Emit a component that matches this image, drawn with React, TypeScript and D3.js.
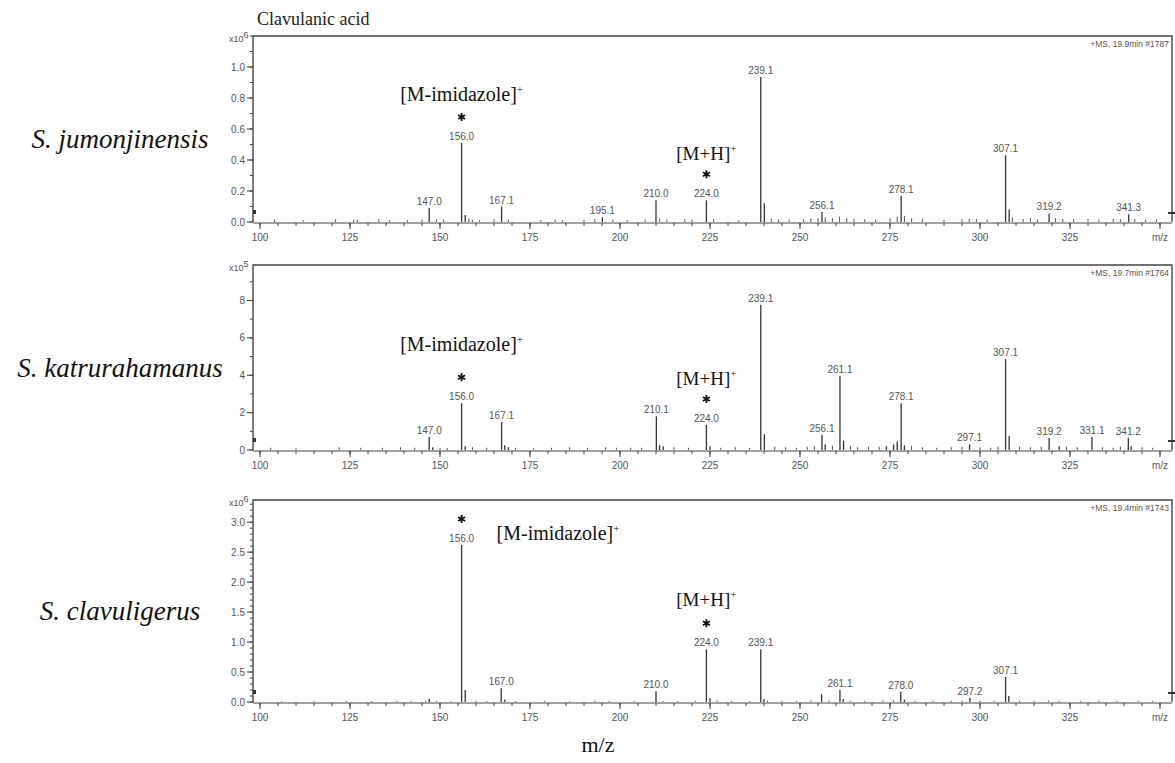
import React, { useEffect, useRef } from 'react';
import * as d3 from 'd3';

// m/z axis
const xTicks = [100, 125, 150, 175, 200, 225, 250, 275, 300, 325];

const species = ['S. jumonjinensis', 'S. katrurahamanus', 'S. clavuligerus'];
const scanInfo = ['+MS, 19.9min #1787', '+MS, 19.7min #1764', '+MS, 19.4min #1743'];
const exponents = ['6', '5', '6'];
const yMax = [1.2, 9.9, 3.37];
const yMajor = [
  [0, 0.2, 0.4, 0.6, 0.8, 1.0],
  [0, 2, 4, 6, 8],
  [0, 0.5, 1.0, 1.5, 2.0, 2.5, 3.0],
];
const yMinorStep = [0.1, 1, 0.1];
const yLabelDigits = [1, 0, 1];

// peaks: [m/z, intensity], labelled ones carry their label
const peaks1: [number, number, string?][] = [
  [147.0, 0.09, '147.0'], [156.0, 0.51, '156.0'], [157.0, 0.045], [167.1, 0.1, '167.1'],
  [195.1, 0.03, '195.1'], [210.0, 0.14, '210.0'], [224.0, 0.14, '224.0'], [239.1, 0.935, '239.1'],
  [240.1, 0.12], [256.1, 0.065, '256.1'], [278.1, 0.17, '278.1'], [307.1, 0.43, '307.1'],
  [308.1, 0.08], [319.2, 0.055, '319.2'], [341.3, 0.05, '341.3'],
];
const peaks2: [number, number, string?][] = [
  [147.0, 0.7, '147.0'], [148.0, 0.15], [156.0, 2.5, '156.0'], [157.0, 0.2], [167.1, 1.5, '167.1'],
  [168.0, 0.25], [169.0, 0.15], [210.1, 1.8, '210.1'], [211.0, 0.25], [212.0, 0.2],
  [224.0, 1.34, '224.0'], [225.0, 0.2], [239.1, 7.77, '239.1'], [240.1, 0.85], [256.1, 0.8, '256.1'],
  [257.0, 0.3], [261.1, 3.96, '261.1'], [262.1, 0.5], [274.0, 0.2], [276.0, 0.3], [277.0, 0.45],
  [278.1, 2.5, '278.1'], [279.0, 0.25], [297.1, 0.3, '297.1'], [307.1, 4.87, '307.1'], [308.1, 0.75],
  [319.2, 0.64, '319.2'], [322.0, 0.2], [331.1, 0.7, '331.1'], [341.2, 0.65, '341.2'], [342.0, 0.2],
];
const peaks3: [number, number, string?][] = [
  [147.0, 0.05], [156.0, 2.62, '156.0'], [157.0, 0.2], [167.0, 0.23, '167.0'], [168.0, 0.04],
  [210.0, 0.18, '210.0'], [224.0, 0.88, '224.0'], [225.0, 0.06], [239.1, 0.88, '239.1'], [240.0, 0.05],
  [256.0, 0.13], [261.1, 0.2, '261.1'], [262.0, 0.05], [278.0, 0.17, '278.0'], [279.0, 0.04],
  [297.2, 0.07, '297.2'], [307.1, 0.42, '307.1'], [308.0, 0.1],
];

// small baseline peaks
const noise1: [number, number][] = [
  [104, 0.015], [112, 0.012], [121, 0.018], [126, 0.015], [127, 0.015], [133, 0.018], [136, 0.012],
  [141, 0.012], [145, 0.015], [149, 0.018], [151, 0.015], [158, 0.022], [159, 0.015], [161, 0.012],
  [165, 0.018], [169, 0.015], [178, 0.012], [182, 0.015], [184, 0.012], [190, 0.015], [193, 0.018],
  [198, 0.015], [202, 0.012], [207, 0.015], [211, 0.022], [213, 0.015], [218, 0.018], [220, 0.015],
  [226, 0.018], [233, 0.012], [242, 0.022], [244, 0.015], [247, 0.015], [251, 0.018], [253, 0.022],
  [255, 0.025], [257, 0.03], [259, 0.025], [261, 0.035], [263, 0.025], [265, 0.02], [268, 0.018],
  [271, 0.015], [275, 0.025], [277, 0.035], [279, 0.04], [281, 0.025], [284, 0.02], [290, 0.015],
  [295, 0.018], [297, 0.02], [299, 0.018], [302, 0.015], [309, 0.03], [312, 0.02], [314, 0.025],
  [316, 0.015], [321, 0.025], [323, 0.02], [326, 0.018], [330, 0.02], [333, 0.015], [337, 0.02],
  [339, 0.018], [343, 0.02], [346, 0.015], [349, 0.018],
];
const noise2: [number, number][] = [
  [103, 0.12], [110, 0.1], [122, 0.15], [128, 0.12], [134, 0.12], [139, 0.15], [143, 0.12],
  [150, 0.12], [152, 0.1], [159, 0.15], [163, 0.12], [171, 0.12], [176, 0.1], [181, 0.12],
  [186, 0.15], [191, 0.12], [196, 0.15], [199, 0.12], [203, 0.12], [206, 0.12], [215, 0.15],
  [219, 0.12], [228, 0.12], [232, 0.15], [236, 0.12], [243, 0.18], [246, 0.15], [249, 0.12],
  [252, 0.18], [254, 0.2], [259, 0.22], [264, 0.22], [266, 0.15], [269, 0.18], [272, 0.18],
  [281, 0.22], [284, 0.15], [288, 0.12], [292, 0.15], [295, 0.18], [300, 0.15], [303, 0.12],
  [305, 0.18], [311, 0.18], [314, 0.15], [317, 0.18], [324, 0.18], [327, 0.15], [334, 0.15],
  [337, 0.12], [339, 0.18], [345, 0.15], [348, 0.12],
];
const noise3: [number, number][] = [
  [106, 0.015], [115, 0.015], [124, 0.018], [131, 0.015], [138, 0.018], [142, 0.015], [146, 0.02],
  [149, 0.018], [153, 0.015], [160, 0.018], [163, 0.015], [171, 0.015], [179, 0.015], [186, 0.015],
  [193, 0.02], [197, 0.018], [204, 0.015], [212, 0.018], [216, 0.015], [221, 0.018], [227, 0.025],
  [231, 0.018], [236, 0.015], [241, 0.025], [245, 0.02], [249, 0.018], [253, 0.025], [258, 0.025],
  [264, 0.02], [268, 0.018], [273, 0.025], [276, 0.03], [282, 0.02], [287, 0.018], [292, 0.02],
  [295, 0.025], [300, 0.02], [304, 0.018], [311, 0.025], [315, 0.02], [319, 0.025], [322, 0.02],
  [328, 0.018], [333, 0.02], [338, 0.018], [344, 0.02], [348, 0.018],
];

const peaks = [peaks1, peaks2, peaks3];
const noise = [noise1, noise2, noise3];

const W = 1175;
const H = 763;
const layout = [
  { top: 36, base: 222 },
  { top: 265, base: 450 },
  { top: 500, base: 702 },
];
// ion annotations: panel, m/z, text, gap from asterisk to text, placement
const ions = [
  { panel: 0, mz: 156.0, text: 'M-imidazole', gap: 16, side: 'above' },
  { panel: 0, mz: 224.0, text: 'M+H', gap: 14, side: 'above' },
  { panel: 1, mz: 156.0, text: 'M-imidazole', gap: 26, side: 'above' },
  { panel: 1, mz: 224.0, text: 'M+H', gap: 14, side: 'above' },
  { panel: 2, mz: 156.0, text: 'M-imidazole', gap: -21, side: 'right' },
  { panel: 2, mz: 224.0, text: 'M+H', gap: 17, side: 'above' },
];

export default function App() {
  const svgRef = useRef<SVGSVGElement>(null);

  useEffect(() => {
    const svg = d3.select(svgRef.current);
    svg.selectAll('*').remove();

    const x = d3.scaleLinear().domain([100, 350]).range([260, 1160]);
    const left = 253;
    const right = 1172;
    const axisCol = '#444';
    const sans = 'Liberation Sans, Arial, sans-serif';
    const serif = 'Liberation Serif, Times New Roman, serif';

    svg.append('text')
      .attr('x', 257).attr('y', 25)
      .attr('font-family', serif).attr('font-size', 18).attr('fill', '#222')
      .text('Clavulanic acid');

    layout.forEach((L, i) => {
      const y = d3.scaleLinear().domain([0, yMax[i]]).range([L.base, L.top]);
      const g = svg.append('g');

      // frame
      g.append('path')
        .attr('d', `M${left},${L.base}V${L.top}H${right}V${L.base}`)
        .attr('fill', 'none').attr('stroke', axisCol).attr('stroke-width', 1.4);
      g.append('line')
        .attr('x1', left).attr('x2', right).attr('y1', L.base + 1).attr('y2', L.base + 1)
        .attr('stroke', axisCol).attr('stroke-width', 1.2);

      // y ticks
      const minor = d3.range(0, yMax[i] + 1e-9, yMinorStep[i]);
      g.selectAll('.ymin').data(minor).enter().append('line')
        .attr('x1', left - 3).attr('x2', left)
        .attr('y1', d => y(d)).attr('y2', d => y(d))
        .attr('stroke', axisCol).attr('stroke-width', 1);
      g.selectAll('.ymaj').data(yMajor[i]).enter().append('line')
        .attr('x1', left - 6).attr('x2', left)
        .attr('y1', d => y(d)).attr('y2', d => y(d))
        .attr('stroke', axisCol).attr('stroke-width', 1.1);
      g.selectAll('.ylab').data(yMajor[i]).enter().append('text')
        .attr('x', left - 8).attr('y', d => y(d) + 3.5)
        .attr('text-anchor', 'end').attr('font-family', sans).attr('font-size', 10)
        .attr('fill', '#555')
        .text(d => d.toFixed(yLabelDigits[i]));

      // exponent
      const ex = g.append('text')
        .attr('x', 229).attr('y', L.top + 6)
        .attr('font-family', sans).attr('font-size', 9).attr('fill', '#555');
      ex.append('tspan').text('x10');
      ex.append('tspan').attr('dy', -4).attr('font-size', 9).text(exponents[i]);

      // x ticks
      const xMinor = d3.range(100, 351, 5);
      g.selectAll('.xmin').data(xMinor).enter().append('line')
        .attr('x1', d => x(d)).attr('x2', d => x(d))
        .attr('y1', L.base + 1).attr('y2', L.base + 4)
        .attr('stroke', axisCol).attr('stroke-width', 1);
      g.selectAll('.xmaj').data([...xTicks, 350]).enter().append('line')
        .attr('x1', d => x(d)).attr('x2', d => x(d))
        .attr('y1', L.base + 1).attr('y2', L.base + 7)
        .attr('stroke', axisCol).attr('stroke-width', 1.1);
      g.selectAll('.xlab').data(xTicks).enter().append('text')
        .attr('x', d => x(d)).attr('y', L.base + 19)
        .attr('text-anchor', 'middle').attr('font-family', sans).attr('font-size', 10)
        .attr('fill', '#555')
        .text(d => d);
      g.append('text')
        .attr('x', x(350)).attr('y', L.base + 19)
        .attr('text-anchor', 'middle').attr('font-family', sans).attr('font-size', 10)
        .attr('fill', '#555').text('m/z');

      // scan info
      g.append('text')
        .attr('x', right - 3).attr('y', L.top + 11)
        .attr('text-anchor', 'end').attr('font-family', sans).attr('font-size', 8.5)
        .attr('fill', '#555').text(scanInfo[i]);

      // cursor markers
      g.append('line')
        .attr('x1', right - 4).attr('x2', right + 3)
        .attr('y1', L.base - 9).attr('y2', L.base - 9)
        .attr('stroke', '#333').attr('stroke-width', 2);
      g.append('line')
        .attr('x1', left + 1.5).attr('x2', left + 1.5)
        .attr('y1', L.base - 12).attr('y2', L.base - 8)
        .attr('stroke', '#333').attr('stroke-width', 3);

      // sticks
      g.selectAll('.noise').data(noise[i]).enter().append('line')
        .attr('x1', d => x(d[0])).attr('x2', d => x(d[0]))
        .attr('y1', L.base).attr('y2', d => y(d[1]))
        .attr('stroke', '#555').attr('stroke-width', 1);
      g.selectAll('.peak').data(peaks[i]).enter().append('line')
        .attr('x1', d => x(d[0])).attr('x2', d => x(d[0]))
        .attr('y1', L.base).attr('y2', d => y(d[1]))
        .attr('stroke', '#333').attr('stroke-width', 1.3);
      g.selectAll('.plab').data(peaks[i].filter(d => d[2])).enter().append('text')
        .attr('x', d => x(d[0])).attr('y', d => y(d[1]) - 3)
        .attr('text-anchor', 'middle').attr('font-family', sans).attr('font-size', 10)
        .attr('fill', '#555')
        .text(d => d[2] as string);

      // species name
      svg.append('text')
        .attr('x', 120).attr('y', (L.top + L.base) / 2 + 19)
        .attr('text-anchor', 'middle').attr('font-family', serif).attr('font-style', 'italic')
        .attr('font-size', 27).attr('fill', '#111')
        .text(species[i]);

      // ion annotations
      ions.filter(a => a.panel === i).forEach(a => {
        const pk = peaks[i].find(p => p[0] === a.mz)!;
        const starY = y(pk[1]) - 26;
        g.append('path')
          .attr('transform', `translate(${x(a.mz)},${starY})`)
          .attr('d', d3.symbol(d3.symbolAsterisk, 45)())
          .attr('stroke', '#111').attr('stroke-width', 1.8).attr('fill', 'none');
        const t = g.append('text')
          .attr('font-family', serif).attr('font-size', a.text === 'M+H' ? 19 : 20).attr('fill', '#111');
        if (a.side === 'right') {
          t.attr('x', x(a.mz) + 35).attr('y', starY - a.gap).attr('text-anchor', 'start');
        } else {
          t.attr('x', x(a.mz)).attr('y', starY - a.gap).attr('text-anchor', 'middle');
        }
        t.append('tspan').text(`[${a.text}]`);
        t.append('tspan').attr('dy', -8).attr('font-size', 11).text('+');
      });
    });

    svg.append('text')
      .attr('x', 598).attr('y', 752)
      .attr('text-anchor', 'middle').attr('font-family', serif).attr('font-size', 22)
      .attr('fill', '#111').text('m/z');
  }, []);

  return (
    <svg
      ref={svgRef}
      width={W}
      height={H}
      style={{ position: 'absolute', left: 0, top: 0, background: '#fff' }}
    />
  );
}
